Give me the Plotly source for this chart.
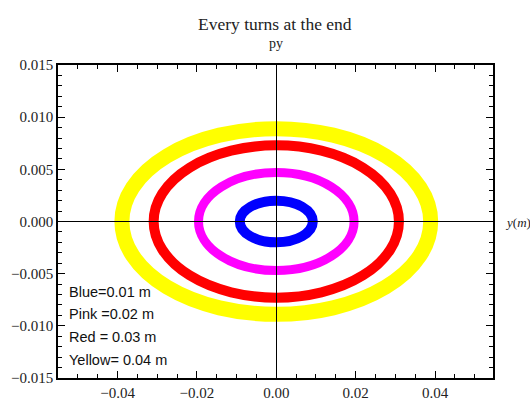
import plotly.graph_objects as go

# Ring data (semi-axes of each phase-space ring)
ring_names = ["Blue", "Pink", "Red", "Yellow"]
ring_colors = ["#0000ff", "#ff00ff", "#ff0000", "#ffff00"]
ring_semi_y_m = [0.0092, 0.0196, 0.0309, 0.0389]     # horizontal semi-axis (y, m)
ring_semi_py = [0.0020, 0.0047, 0.0073, 0.0089]      # vertical semi-axis (py)
ring_width_px = [10, 9, 10, 15]

legend_lines = ["Blue=0.01 m", "Pink =0.02 m", "Red = 0.03 m", "Yellow= 0.04 m"]

x_ticks = [-0.04, -0.02, 0.00, 0.02, 0.04]
y_ticks = [-0.015, -0.010, -0.005, 0.000, 0.005, 0.010, 0.015]

fig = go.Figure()
# invisible trace to establish axes
fig.add_trace(go.Scatter(x=[0], y=[0], mode="markers", marker=dict(opacity=0), hoverinfo="skip", showlegend=False))

for a, b, c, w in zip(ring_semi_y_m, ring_semi_py, ring_colors, ring_width_px):
    fig.add_shape(type="circle", xref="x", yref="y", x0=-a, x1=a, y0=-b, y1=b,
                  line=dict(color=c, width=w), layer="below")

serif = "Liberation Serif, Times New Roman, serif"

fig.update_xaxes(range=[-0.0550, 0.0546], tickvals=x_ticks, tickformat=".2f", automargin=False,
                 ticks="inside", ticklen=7, tickcolor="black", tickwidth=1,
                 showline=True, linecolor="black", linewidth=1.5, mirror="ticks",
                 showgrid=False, zeroline=True, zerolinecolor="black", zerolinewidth=1.2,
                 minor=dict(ticks="inside", ticklen=4, dtick=0.005, tickcolor="black", showgrid=False),
                 tickfont=dict(family=serif, size=15, color="#222"))
fig.update_yaxes(range=[-0.015, 0.015], tickvals=y_ticks, tickformat=".3f", automargin=False,
                 ticks="inside", ticklen=7, tickcolor="black", tickwidth=1,
                 showline=True, linecolor="black", linewidth=1.5, mirror="ticks",
                 showgrid=False, zeroline=True, zerolinecolor="black", zerolinewidth=1.2,
                 minor=dict(ticks="inside", ticklen=4, dtick=0.001, tickcolor="black", showgrid=False),
                 tickfont=dict(family=serif, size=15, color="#222"))

annotations = [
    dict(text="Every turns at the end", xref="paper", yref="paper", x=(275 - 58) / 435, y=(378.3 - 23.5) / 313.6,
         xanchor="center", yanchor="middle", showarrow=False,
         font=dict(family=serif, size=17.5, color="#222")),
    dict(text="py", xref="paper", yref="paper", x=(276 - 58) / 435, y=(378.3 - 43) / 313.6,
         xanchor="center", yanchor="middle", showarrow=False,
         font=dict(family=serif, size=14, color="#222")),
    dict(text="<i>y</i>(<i>m</i>)", xref="paper", yref="paper", x=(503 - 58) / 435, y=(378.3 - 223) / 313.6,
         xanchor="left", yanchor="middle", showarrow=False,
         font=dict(family=serif, size=13, color="#222")),
]
legend_y_px = [292, 314.5, 337.5, 360]
for txt, py in zip(legend_lines, legend_y_px):
    annotations.append(dict(text=txt, xref="paper", yref="paper",
                            x=(67 - 58) / 435, y=(378.3 - py) / 313.6,
                            xanchor="left", yanchor="middle", showarrow=False,
                            font=dict(family="Liberation Sans, Arial, sans-serif", size=14.5, color="#111")))

fig.update_layout(width=530, height=403, margin=dict(l=58, r=37, t=65, b=25),
                  paper_bgcolor="white", plot_bgcolor="white",
                  showlegend=False, annotations=annotations)

fig.write_html("out.html", config={"displayModeBar": False},
               post_script="document.body.style.margin='0px';document.body.style.overflow='hidden';")
